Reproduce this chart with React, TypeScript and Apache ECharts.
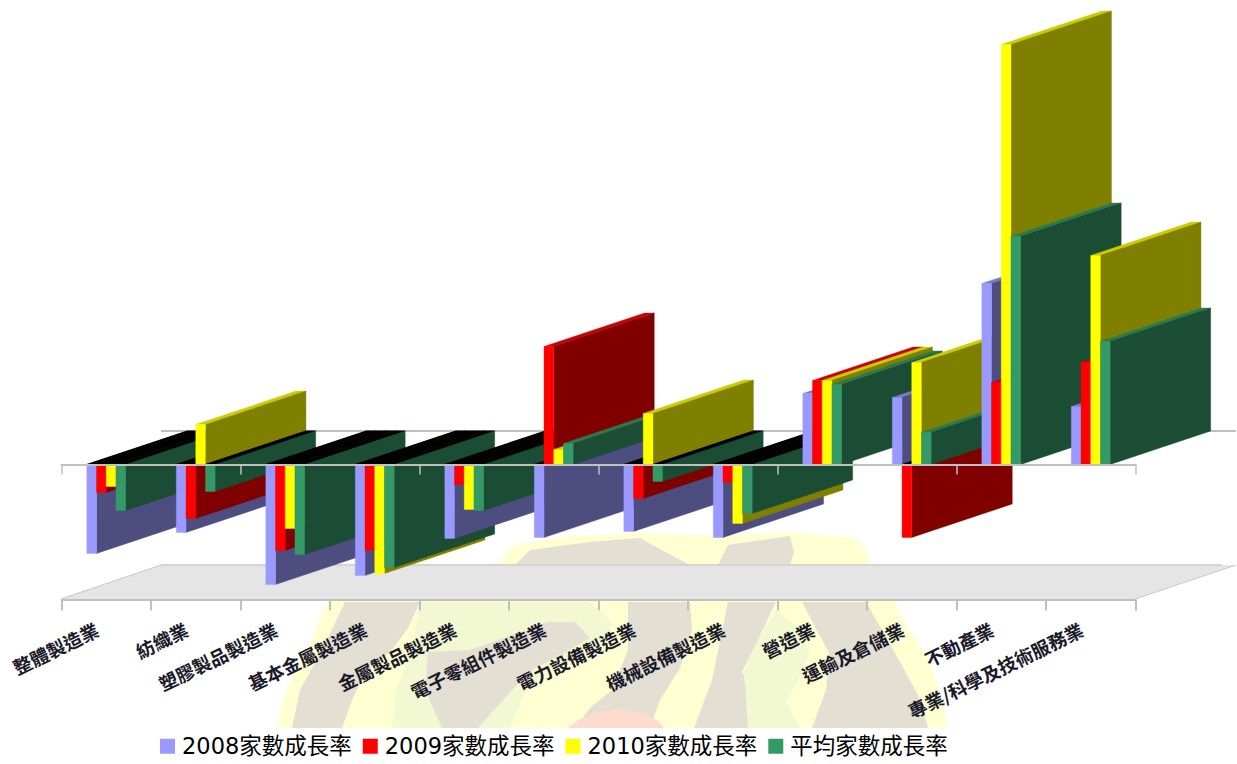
import React, { useEffect, useRef } from "react";
import * as echarts from "echarts";

const categories = ["整體製造業", "紡織業", "塑膠製品製造業", "基本金屬製造業", "金屬製品製造業", "電子零組件製造業", "電力設備製造業", "機械設備製造業", "營造業", "運輸及倉儲業", "不動產業", "專業/科學及技術服務業"];
const seriesNames = ["2008家數成長率", "2009家數成長率", "2010家數成長率", "平均家數成長率"];
const rate2008 = [-8.9, -6.8, -12.0, -11.1, -7.4, -7.3, -6.7, -7.3, 7.1, 6.7, 18.1, 5.8];
const rate2009 = [-2.8, -5.4, -8.6, -8.6, -2.0, 11.8, -3.4, -1.8, 8.4, -7.3, 8.2, 10.2];
const rate2010 = [-2.2, 4.0, -6.4, -10.9, -4.5, 1.5, 5.1, -5.9, 8.4, 10.2, 42.0, 20.9];
const rateAverage = [-4.6, -2.7, -9.0, -10.3, -4.6, 2.1, -1.7, -4.9, 8.0, 3.2, 22.8, 12.3];
const seriesValues = [rate2008, rate2009, rate2010, rateAverage];

const frontColors = ["#9999FF", "#FF0000", "#FFFF00", "#339966"];
const sideColors = ["#4D4D80", "#800000", "#808000", "#1A4D33"];
const topColors = ["#7A7ACC", "#CC0000", "#CCCC00", "#297A52"];

const DEPTH_X = 100.5;
const DEPTH_Y = 33.5;
const FONT = '"Noto Sans CJK TC", "Noto Sans", sans-serif';
const LEGEND_FONT = '"DejaVu Sans", "Noto Sans CJK TC", sans-serif';

const pale = (points: number[][], fill: string, z = 0) => ({
  type: "polygon",
  silent: true,
  z,
  shape: { points },
  style: { fill },
});

const GRAY = "#E3DFD3";
const GREEN = "#F1F8D2";
const YELLOW = "#FFFFD2";

const watermark = [
  pale([[277, 728], [283, 700], [296, 668], [312, 640], [322, 612], [332, 596], [350, 590], [420, 580], [500, 562], [512, 546], [560, 537], [640, 533], [720, 536], [790, 532], [855, 538], [868, 552], [872, 572], [892, 596], [908, 628], [925, 652], [940, 692], [948, 728]], YELLOW),
  pale([[515, 565], [530, 550], [590, 542], [640, 538], [665, 552], [690, 565]], GRAY),
  pale([[718, 565], [728, 545], [790, 536], [794, 552], [790, 565]], GRAY),
  pale([[345, 602], [420, 602], [408, 628], [392, 650], [366, 672], [352, 700], [342, 728], [292, 728], [300, 690], [322, 650]], GRAY),
  pale([[420, 602], [590, 602], [612, 622], [604, 645], [552, 668], [525, 692], [510, 728], [392, 728], [396, 690], [412, 650]], GREEN),
  pale([[428, 652], [470, 650], [510, 636], [548, 622], [575, 622], [590, 638], [560, 655], [535, 668], [512, 690], [492, 712], [478, 728], [442, 728], [425, 690]], GRAY),
  pale([[628, 602], [690, 602], [692, 630], [680, 668], [660, 700], [650, 728], [575, 728], [590, 708], [612, 690], [628, 650]], GRAY),
  pale([[728, 602], [776, 602], [758, 640], [742, 672], [758, 700], [778, 728], [694, 728], [712, 680]], GRAY),
  pale([[776, 610], [798, 628], [810, 652], [798, 680], [786, 702], [800, 728], [748, 728], [744, 672], [758, 640]], GREEN),
  pale([[802, 602], [866, 602], [882, 630], [900, 662], [918, 695], [928, 728], [812, 728], [826, 690], [830, 655]], GRAY),
  pale([[568, 728], [580, 719], [598, 712], [622, 708], [644, 713], [658, 721], [664, 728]], "#FDDCCF"),
];

const floor = [
  pale([[61, 599], [161, 565], [1236, 565], [1135, 599]], "#E5E5E5", 1),
  { type: "line", silent: true, z: 1, shape: { x1: 161, y1: 565, x2: 1222, y2: 565 }, style: { stroke: "#D4D4D4", lineWidth: 2 } },
  { type: "line", silent: true, z: 1, shape: { x1: 61, y1: 599, x2: 161, y2: 565 }, style: { stroke: "#C8C8C8", lineWidth: 1 } },
  { type: "line", silent: true, z: 1, shape: { x1: 1135, y1: 599, x2: 1236, y2: 565 }, style: { stroke: "#C8C8C8", lineWidth: 1 } },
  { type: "line", silent: true, z: 1, shape: { x1: 161, y1: 431, x2: 1236, y2: 431 }, style: { stroke: "#C0C0C0", lineWidth: 2 } },
];

const renderBar = (seriesIndex: number) => (params: any, api: any) => {
  const catIndex = api.value(0);
  const value = api.value(1);
  const center = api.coord([catIndex, 0]);
  const tip = api.coord([catIndex, value]);
  const w = api.size([1, 0])[0] * 0.1085;
  const x0 = center[0] - 2 * w + seriesIndex * w;
  const x1 = x0 + w;
  const zero = center[1];
  const end = tip[1];
  const order = (catIndex * 4 + seriesIndex) * 3;
  const topY = value >= 0 ? end : zero;
  const poly = (points: number[][], fill: string, z2: number, lineWidth = 0.4) => ({
    type: "polygon",
    z2,
    shape: { points },
    style: { fill, stroke: fill, lineWidth },
  });
  return {
    type: "group",
    children: [
      poly([[x0, topY], [x1, topY], [x1 + DEPTH_X, topY - DEPTH_Y], [x0 + DEPTH_X, topY - DEPTH_Y]], value >= 0 ? topColors[seriesIndex] : "#000000", order, value >= 0 ? 0.4 : 1.2),
      poly([[x1, zero], [x1 + DEPTH_X, zero - DEPTH_Y], [x1 + DEPTH_X, end - DEPTH_Y], [x1, end]], sideColors[seriesIndex], order + 1),
      poly([[x0, zero], [x1, zero], [x1, end], [x0, end]], frontColors[seriesIndex], order + 2),
    ],
  };
};

export default function App() {
  const ref = useRef<HTMLDivElement>(null);
  useEffect(() => {
    const chart = echarts.init(ref.current!, undefined, { renderer: "svg" });
    chart.setOption({
      animation: false,
      backgroundColor: "#FFFFFF",
      graphic: { elements: [...watermark, ...floor] },
      grid: { left: 61.5, width: 1074, top: 14.5, height: 585 },
      legend: {
        left: 160,
        top: 735,
        padding: 0,
        icon: "rect",
        itemWidth: 15,
        itemHeight: 15,
        itemGap: 11,
        textStyle: { fontFamily: LEGEND_FONT, fontSize: 22.5, color: "#000000", padding: [0, 0, 0, 2] },
        data: seriesNames,
      },
      xAxis: [
        {
          type: "category",
          data: categories,
          position: "bottom",
          z: 1,
          axisLine: { onZero: false, lineStyle: { color: "#C0C0C0", width: 2 } },
          axisTick: { show: true, alignWithLabel: false, length: 11, lineStyle: { color: "#C0C0C0", width: 2 } },
          axisLabel: { interval: 0, rotate: 26, margin: 24, padding: [0, 10, 0, 0], fontFamily: FONT, fontSize: 18.5, fontWeight: 700, color: "#1A1A2A" },
        },
        {
          type: "category",
          data: categories,
          position: "top",
          z: 10,
          axisLine: { onZero: true, lineStyle: { color: "#C0C0C0", width: 2 } },
          axisTick: { show: true, alignWithLabel: false, inside: true, length: 10, lineStyle: { color: "#C0C0C0", width: 1.5 } },
          axisLabel: { show: false },
        },
      ],
      yAxis: { type: "value", min: -13.5, max: 45, show: false },
      series: seriesNames.map((name, i) => ({
        type: "custom",
        name,
        xAxisIndex: 0,
        itemStyle: { color: frontColors[i] },
        encode: { x: 0, y: 1 },
        renderItem: renderBar(i),
        data: seriesValues[i].map((v, c) => [c, v]),
      })),
    });
    return () => chart.dispose();
  }, []);
  return <div ref={ref} style={{ position: "fixed", left: 0, top: 0, width: 1237, height: 764 }} />;
}
